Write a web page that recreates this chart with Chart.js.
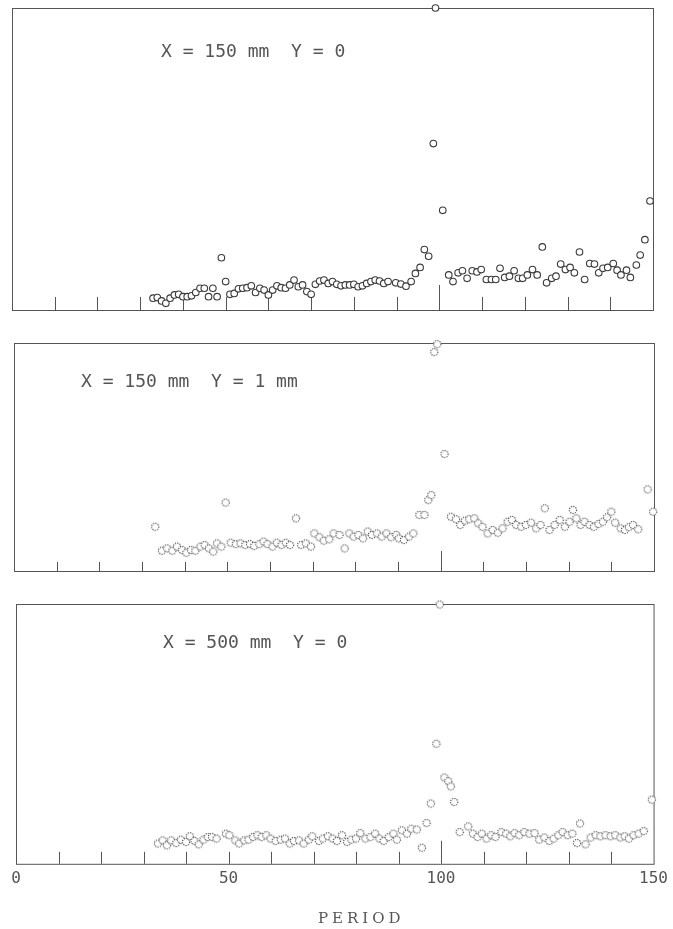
<!DOCTYPE html>
<html>
<head>
<meta charset="utf-8">
<script src="https://cdn.jsdelivr.net/npm/chart.js@4.4.1/dist/chart.umd.min.js"></script>
<style>
  body { margin: 0; background: #fff; }
  #wrap { position: relative; width: 673px; height: 929px; }
  .panel { position: absolute; left: 0; width: 673px; }
</style>
</head>
<body>
<div id="wrap">
  <div class="panel" style="top:0;height:320px"><canvas id="c1"></canvas></div>
  <div class="panel" style="top:320px;height:260px"><canvas id="c2"></canvas></div>
  <div class="panel" style="top:580px;height:349px"><canvas id="c3"></canvas></div>
</div>
<script>
// Values, in % of each panel's full height
// Panel 1: X = 150 mm, Y = 0
const period1 = [33, 34, 35, 36, 37, 38, 39, 40, 41, 42, 43, 44, 45, 46, 47, 48, 49, 50, 51, 52, 53, 54, 55, 56, 57, 58, 59, 60,
  61, 62, 63, 64, 65, 66, 67, 68, 69, 70, 71, 72, 73, 74, 75, 76, 77, 78, 79, 80, 81, 82, 83, 84, 85, 86, 87, 88,
  89.8, 91, 92.2, 93.4, 94.4, 95.5, 96.5, 97.5, 98.6, 99.1, 100.8, 102.2, 103.2, 104.4, 105.4, 106.5, 107.7, 108.8, 109.8,
  111, 112.2, 113.2, 114.2, 115.3, 116.4, 117.5, 118.5, 119.5, 120.6, 121.8, 122.9, 124.1, 125.1, 126.3, 127.3, 128.4,
  129.5, 130.6, 131.6, 132.8, 134, 135.2, 136.3, 137.3, 138.3, 139.4, 140.7, 141.6, 142.5, 143.8, 144.7, 146.1, 147,
  148.1, 149.3];
const value1 = [3.9, 4.1, 3.0, 2.2, 3.9, 5.0, 5.2, 4.4, 4.4, 4.7, 5.8, 7.2, 7.2, 4.4, 7.2, 4.4, 17.3, 9.4, 5.2, 5.5, 7.0, 7.2,
  7.4, 8.0, 5.8, 7.2, 6.6, 5.0, 6.6, 8.0, 7.4, 7.2, 8.3, 9.9, 7.7, 8.3, 6.1, 5.2, 8.5, 9.6, 9.9, 8.8, 9.4, 8.5, 8.0, 8.3,
  8.3, 8.5, 7.7, 8.0, 8.8, 9.4, 9.9, 9.6, 8.8, 9.4,
  9.0, 8.6, 7.9, 9.4, 12.1, 14.1, 20.0, 17.8, 55.1, 100, 33.0, 11.6, 9.4, 12.3, 13.0, 10.5, 13.0, 12.6, 13.4,
  10.1, 10.1, 10.1, 13.8, 10.8, 11.2, 13.0, 10.5, 10.5, 11.6, 13.4, 11.6, 20.9, 9.0, 10.5, 11.2, 15.2,
  13.4, 14.1, 12.3, 19.2, 10.1, 15.4, 15.2, 12.3, 13.8, 14.1, 15.4, 13.2, 11.6, 13.2, 10.8, 14.9, 18.2,
  23.3, 36.1];

// Panel 2: X = 150 mm, Y = 1 mm
const period2 = [33.1, 34.7, 35.9, 37.1, 38.2, 39.4, 40.4, 41.5, 42.5, 43.7, 44.7, 45.7, 46.7, 47.6, 48.6, 49.6, 50.8, 52,
  53.1, 54.2, 55.3, 56.3, 57.5, 58.5, 59.4, 60.6, 61.6, 62.7, 63.7, 64.7, 66.1, 67.3, 68.4, 69.6, 70.4, 71.6, 72.6, 73.9,
  74.9, 76.3, 77.5, 78.6, 79.6, 80.7, 81.8, 82.9, 83.9, 85.1, 86.2, 87.3, 88.4, 89.6,
  90.2, 91.4, 92.6, 93.6, 95.0, 96.2, 97.1, 97.8, 98.5, 99.2, 100.9, 102.4, 103.6, 104.6, 105.7, 106.7, 107.9, 108.8, 109.8,
  111, 112.2, 113.4, 114.5, 115.7, 116.7, 117.7, 118.9, 120.0, 121.2, 122.4, 123.4, 124.4, 125.5, 126.7, 127.9, 129.1,
  130.2, 131, 131.8, 132.8, 133.7, 134.9, 135.9, 137, 138, 139, 140, 140.9, 142.2, 143.2, 144.1, 145.1, 146.3, 148.5, 149.8];
const value2 = [19.4, 8.9, 9.9, 8.9, 10.7, 9.2, 8.0, 9.2, 8.9, 10.7, 11.4, 9.9, 8.5, 12.1, 10.7, 30.0, 12.4, 11.8,
  12.1, 11.4, 11.8, 11.0, 11.8, 12.9, 11.8, 10.7, 12.4, 11.4, 12.4, 11.4, 23.1, 11.4, 12.1, 10.7, 16.5, 14.8, 13.3, 13.9,
  16.5, 15.8, 9.9, 16.5, 15.1, 15.8, 14.3, 17.3, 15.8, 16.5, 15.1, 16.5, 14.8, 15.8,
  14.3, 13.6, 15.1, 16.5, 24.6, 24.6, 31.1, 33.3, 96, 99.5, 51.3, 23.8, 22.7, 20.2, 22.1, 22.7, 23.1, 20.9, 19.4,
  16.5, 18.0, 16.8, 18.7, 21.6, 22.4, 20.2, 19.4, 20.2, 21.2, 18.7, 20.2, 27.5, 18.0, 20.2, 22.4, 19.4,
  21.6, 26.8, 23.1, 20.2, 21.6, 20.2, 19.4, 20.6, 21.6, 23.6, 26.0, 21.2, 18.7, 18.0, 19.2, 20.2, 18.3, 35.8, 26.0];

// Panel 3: X = 500 mm, Y = 0
const period3 = [33.4, 34.5, 35.5, 36.5, 37.7, 38.8, 40, 40.9, 42, 43, 44.1, 45.1, 46.1, 47.2, 49.4, 50.2, 51.6, 52.5, 53.7,
  54.7, 55.8, 56.8, 57.8, 58.9, 59.9, 61.1, 62.3, 63.3, 64.4, 65.4, 66.6, 67.7, 68.9, 69.7, 71.3, 72.2, 73.4, 74.5, 75.5,
  76.7, 77.9, 78.9, 80, 81, 82.2, 83.4, 84.5, 85.5, 86.5, 87.7, 88.8,
  89.6, 90.8, 92, 93, 94.3, 95.5, 96.6, 97.6, 98.9, 99.7, 100.8, 101.7, 102.3, 103.1, 104.4, 106.4, 107.5, 108.6, 109.6,
  110.7, 111.8, 112.8, 114.2, 115.3, 116.3, 117.3, 118.4, 119.6, 120.8, 122, 123.1, 124.3, 125.5, 126.5, 127.6, 128.6,
  129.8, 130.9, 132, 132.7, 134, 135.2, 136.4, 137.5, 138.7, 139.9, 141, 142.2, 143.2, 144.2, 145.3, 146.5, 147.7, 149.6];
const value3 = [7.8, 9.0, 7.1, 9.0, 8.0, 9.3, 8.4, 10.6, 8.8, 7.5, 9.3, 10.3, 10.3, 9.7, 11.6, 11.0, 9.0, 7.8, 9.0,
  9.3, 10.3, 11.0, 10.3, 11.0, 9.7, 8.8, 9.3, 9.7, 7.8, 8.8, 9.0, 7.8, 9.3, 10.6, 8.8, 9.7, 10.6, 9.7, 8.8,
  11.0, 8.4, 9.3, 9.7, 11.8, 9.7, 10.3, 11.6, 9.7, 8.8, 10.3, 11.6,
  9.3, 12.9, 11.6, 13.5, 13.2, 6.2, 15.7, 23.2, 46.2, 99.8, 33.2, 31.8, 29.8, 23.8, 12.2, 14.4, 11.6, 10.3, 11.6,
  9.7, 11.0, 10.3, 12.2, 11.6, 10.6, 11.8, 11.0, 12.2, 11.6, 11.8, 9.3, 10.1, 8.8, 9.7, 11.0, 12.2,
  11.0, 11.6, 8.0, 15.5, 7.5, 10.1, 11.0, 10.6, 11.0, 10.6, 11.0, 10.1, 10.6, 9.7, 11.0, 11.6, 12.6, 24.7];

// Axis marks and texts
const tickMarks = [10, 20, 30, 40, 50, 60, 70, 80, 90, 100, 110, 120, 130, 140];
const longTick = 100;
const tickLabels = [0, 50, 100, 150];
const panelTexts = ['X = 150 mm  Y = 0', 'X = 150 mm  Y = 1 mm', 'X = 500 mm  Y = 0'];
const axisTitle = 'PERIOD';

// Dotted open circle, used as point style for the two lower panels
function dottedCircle(r) {
    const s = Math.ceil(r * 2 + 4);
    const c = document.createElement('canvas');
    c.width = s; c.height = s;
    const g = c.getContext('2d');
    g.beginPath();
    g.arc(s / 2, s / 2, r, 0, Math.PI * 2);
    g.fillStyle = '#fff';
    g.fill();
    g.setLineDash([1.2, 1.2]);
    g.strokeStyle = '#444';
    g.lineWidth = 1.1;
    g.stroke();
    return c;
}

// Frame, inward tick marks and panel caption
const panelDeco = {
    id: 'panelDeco',
    beforeDatasetsDraw(chart, args, opts) {
        const { ctx, chartArea: a } = chart;
        const x = chart.scales.x;
        ctx.save();
        ctx.strokeStyle = '#555';
        ctx.lineWidth = 1;
        ctx.strokeRect(a.left + 0.5, a.top + 0.5, a.right - a.left, a.bottom - a.top);
        tickMarks.forEach(v => {
            const px = Math.round(x.getPixelForValue(v)) + 0.5;
            const len = v === longTick ? opts.longLen : opts.tickLen;
            ctx.beginPath();
            ctx.moveTo(px, a.bottom);
            ctx.lineTo(px, a.bottom - len);
            ctx.stroke();
        });
        ctx.fillStyle = '#555';
        ctx.font = '18px "DejaVu Sans Mono"';
        ctx.textBaseline = 'middle';
        ctx.fillText(opts.text, opts.tx, a.top + opts.ty);
        if (opts.title) {
            ctx.font = '15px "DejaVu Serif"';
            ctx.letterSpacing = '4px';
            ctx.fillText(opts.title, opts.titleX, a.bottom + opts.titleY);
        }
        ctx.restore();
    }
};

function makePanel(id, xs, ys, cfg) {
    return new Chart(document.getElementById(id), {
        type: 'scatter',
        data: {
            datasets: [{
                data: xs.map((v, i) => ({ x: v, y: ys[i] })),
                pointStyle: cfg.pointStyle,
                pointRadius: 3.3,
                pointBorderWidth: 1.1,
                pointBorderColor: '#3a3a3a',
                pointBackgroundColor: '#fff',
                clip: false
            }]
        },
        options: {
            responsive: true,
            maintainAspectRatio: false,
            animation: false,
            events: [],
            layout: { autoPadding: false, padding: cfg.padding },
            plugins: {
                legend: { display: false },
                tooltip: { enabled: false },
                panelDeco: cfg.deco
            },
            scales: {
                x: {
                    type: 'linear', min: 0, max: 150,
                    display: cfg.showLabels,
                    grid: { display: false, drawTicks: false },
                    border: { display: false },
                    ticks: {
                        stepSize: 50, padding: 5, maxRotation: 0, autoSkip: false,
                        color: '#555',
                        font: { family: 'DejaVu Sans Mono', size: 16 },
                        callback: v => tickLabels.includes(v) ? String(v) : ''
                    }
                },
                y: { min: 0, max: 100, display: false }
            }
        },
        plugins: [panelDeco]
    });
}

makePanel('c1', period1, value1, {
    pointStyle: 'circle',
    padding: { left: 12, right: 20, top: 8, bottom: 10 },
    showLabels: false,
    deco: { text: panelTexts[0], tx: 161, ty: 44, tickLen: 13, longLen: 25 }
});
makePanel('c2', period2, value2, {
    pointStyle: dottedCircle(3.6),
    padding: { left: 14, right: 19, top: 23, bottom: 9 },
    showLabels: false,
    deco: { text: panelTexts[1], tx: 81, ty: 39, tickLen: 9, longLen: 20 }
});
makePanel('c3', period3, value3, {
    pointStyle: dottedCircle(3.6),
    padding: { left: 16, right: 17, top: 24, bottom: 36 },
    showLabels: true,
    deco: { text: panelTexts[2], tx: 163, ty: 39, tickLen: 12, longLen: 23,
            title: axisTitle, titleX: 318, titleY: 55 }
});
</script>
</body>
</html>
